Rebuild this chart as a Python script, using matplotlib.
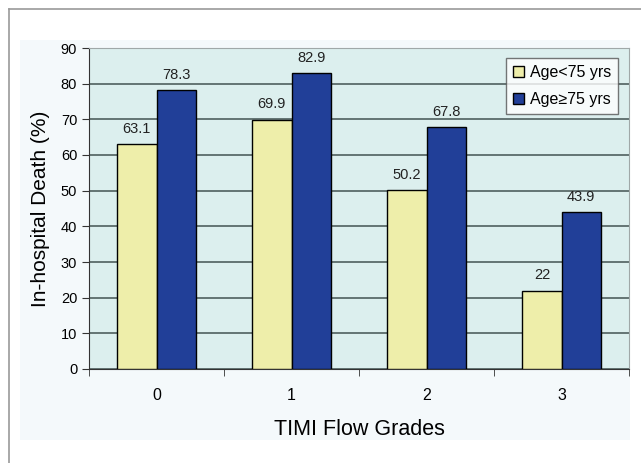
import numpy as np
import matplotlib
matplotlib.use("Agg")
import matplotlib.pyplot as plt
from matplotlib.lines import Line2D

plt.rcParams['font.family'] = ['Liberation Sans', 'DejaVu Sans']

# Data
grades = ['0', '1', '2', '3']
under75 = [63.1, 69.9, 50.2, 22]
over75 = [78.3, 82.9, 67.8, 43.9]

fig = plt.figure(figsize=(6.41, 4.63), dpi=100)
fig.patch.set_facecolor('white')

# faint chart-area background and the L-shaped frame
fig.patches.append(plt.Rectangle((20/641, 1-440/463), 610/641, 400/463,
                                 transform=fig.transFigure, facecolor='#f4f9fb',
                                 edgecolor='none', zorder=-10))
fig.add_artist(Line2D([8.5/641, 8.5/641], [0, 1-8.5/463], transform=fig.transFigure,
                      color='#9a9a9a', lw=1.2))
fig.add_artist(Line2D([8.5/641, 1], [1-8.5/463, 1-8.5/463], transform=fig.transFigure,
                      color='#9a9a9a', lw=1.2))

ax = fig.add_axes([89/641, 1-369/463, 540/641, 321/463])
ax.set_zorder(1)
ax.set_facecolor('#dcefee')

x = np.arange(len(grades))
w = 0.29
b1 = ax.bar(x - w/2, under75, w, color='#eeeeaa', edgecolor='black', lw=1.0,
            label='Age<75 yrs', zorder=3)
b2 = ax.bar(x + w/2, over75, w, color='#213f98', edgecolor='black', lw=1.0,
            label='Age≥75 yrs', zorder=3)

for bars, vals in ((b1, under75), (b2, over75)):
    for r, v in zip(bars, vals):
        ax.text(r.get_x() + r.get_width()/2, v + 2.3, f'{v:g}', ha='center',
                va='bottom', fontsize=10.5, color='#222222')

ax.set_xlim(-0.5, 3.5)
ax.set_ylim(0, 90)
ax.set_yticks(range(0, 91, 10))
ax.yaxis.grid(True, color='#4f5f5f', lw=1.2, zorder=1)
ax.set_axisbelow(True)

ax.set_xticks(x)
ax.set_xticklabels(grades, fontsize=11.5)
ax.set_xticks([-0.5, 0.5, 1.5, 2.5, 3.5], minor=True)
ax.tick_params(axis='x', which='major', length=0, pad=14)
ax.tick_params(axis='x', which='minor', length=5, direction='out', color='#333333')
ax.tick_params(axis='y', length=5, direction='out', labelsize=10.5, color='#333333')

for s in ('top', 'right'):
    ax.spines[s].set_color('#a0a8a8')
for s in ('left', 'bottom'):
    ax.spines[s].set_color('#333333')

ax.set_xlabel('TIMI Flow Grades', fontsize=15.5, labelpad=11)
ax.set_ylabel('In-hospital Death (%)', fontsize=15, labelpad=8)

leg = ax.legend(loc='upper right', bbox_to_anchor=(0.995, 0.995), fontsize=11.5,
                frameon=True, fancybox=False, edgecolor='#555555',
                handlelength=0.7, handleheight=0.7, handletextpad=0.35,
                borderpad=0.45, labelspacing=0.75)
leg.get_frame().set_linewidth(1.0)

fig.savefig('out.png', dpi=100)
